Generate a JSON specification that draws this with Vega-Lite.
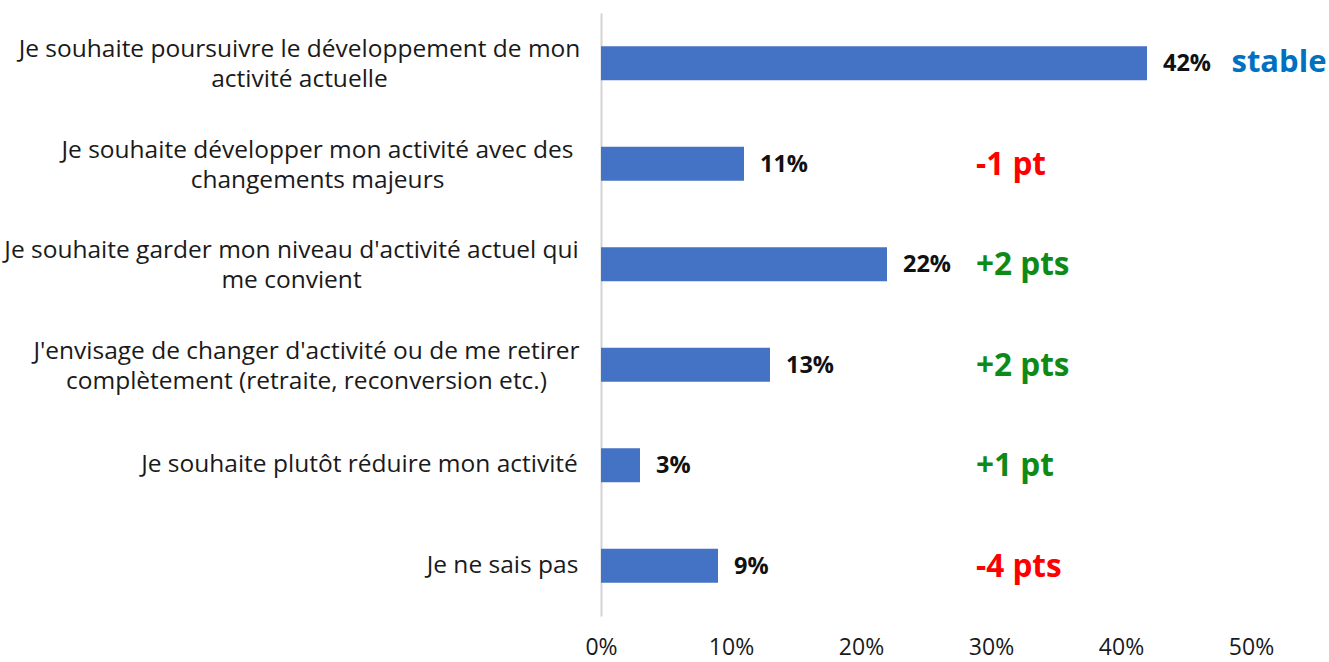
{
  "$schema": "https://vega.github.io/schema/vega-lite/v6.json",
  "width": 650,
  "height": 603,
  "padding": {"left": 3, "top": 13, "right": 0, "bottom": 0},
  "background": "white",
  "config": {"view": {"stroke": null}, "font": "Open Sans"},
  "data": {
    "values": [
      {"cat": "Je souhaite poursuivre le développement de mon|activité actuelle", "value": 42, "label": "42%", "change": "stable"},
      {"cat": "Je souhaite développer mon activité avec des|changements majeurs", "value": 11, "label": "11%", "change": "-1 pt"},
      {"cat": "Je souhaite garder mon niveau d'activité actuel qui|me convient", "value": 22, "label": "22%", "change": "+2 pts"},
      {"cat": "J'envisage de changer d'activité ou de me retirer|complètement (retraite, reconversion etc.)", "value": 13, "label": "13%", "change": "+2 pts"},
      {"cat": "Je souhaite plutôt réduire mon activité", "value": 3, "label": "3%", "change": "+1 pt"},
      {"cat": "Je ne sais pas", "value": 9, "label": "9%", "change": "-4 pts"}
    ]
  },
  "encoding": {
    "y": {
      "field": "cat",
      "type": "nominal",
      "sort": null,
      "scale": {"paddingInner": 0.66, "paddingOuter": 0.33},
      "axis": {
        "title": null,
        "ticks": false,
        "domain": true,
        "domainColor": "#d4d4d4",
        "domainWidth": 2,
        "labelFont": "Open Sans",
        "labelFontSize": 24.5,
        "labelColor": "#1a1a1a",
        "labelLineHeight": 30,
        "labelLimit": 0,
        "labelAlign": "center",
        "labelExpr": "split(datum.label, '|')",
        "labelOffset": {
          "condition": {"test": "indexof(datum.value, '|') >= 0", "value": -13},
          "value": 0
        },
        "labelPadding": {
          "condition": [
            {"test": "indexof(datum.value, 'poursuivre') >= 0", "value": 302},
            {"test": "indexof(datum.value, 'développer') >= 0", "value": 284},
            {"test": "indexof(datum.value, 'garder') >= 0", "value": 310},
            {"test": "indexof(datum.value, 'envisage') >= 0", "value": 295},
            {"test": "indexof(datum.value, 'plutôt') >= 0", "value": 242}
          ],
          "value": 99
        }
      }
    }
  },
  "layer": [
    {
      "mark": {"type": "bar", "color": "#4472C4"},
      "encoding": {
        "x": {
          "field": "value",
          "type": "quantitative",
          "scale": {"domain": [0, 50]},
          "axis": {
            "title": null,
            "values": [0, 10, 20, 30, 40, 50],
            "labelExpr": "datum.value + '%'",
            "labelFlush": false,
            "domain": false,
            "ticks": false,
            "grid": false,
            "labelFont": "Open Sans",
            "labelFontSize": 23,
            "labelColor": "#1a1a1a",
            "labelPadding": 20
          }
        }
      }
    },
    {
      "mark": {"type": "text", "align": "left", "baseline": "middle", "dx": 16, "dy": 1, "fontSize": 23.5, "fontWeight": "bold", "color": "#111111", "font": "Open Sans"},
      "encoding": {
        "x": {"field": "value", "type": "quantitative"},
        "text": {"field": "label"}
      }
    },
    {
      "transform": [{"filter": "datum.change != 'stable'"}],
      "mark": {"type": "text", "align": "left", "baseline": "middle", "dy": 2, "fontSize": 31.5, "fontWeight": "bold", "font": "Open Sans"},
      "encoding": {
        "x": {"datum": 28.85, "type": "quantitative"},
        "text": {"field": "change"},
        "color": {
          "condition": {"test": "indexof(datum.change, '+') == 0", "value": "#0E8A16"},
          "value": "#FF0000"
        }
      }
    },
    {
      "transform": [{"filter": "datum.change == 'stable'"}],
      "mark": {"type": "text", "align": "left", "baseline": "middle", "fontSize": 31, "fontWeight": "bold", "font": "Open Sans", "color": "#0070C0"},
      "encoding": {
        "x": {"datum": 48.5, "type": "quantitative"},
        "text": {"field": "change"}
      }
    }
  ]
}
